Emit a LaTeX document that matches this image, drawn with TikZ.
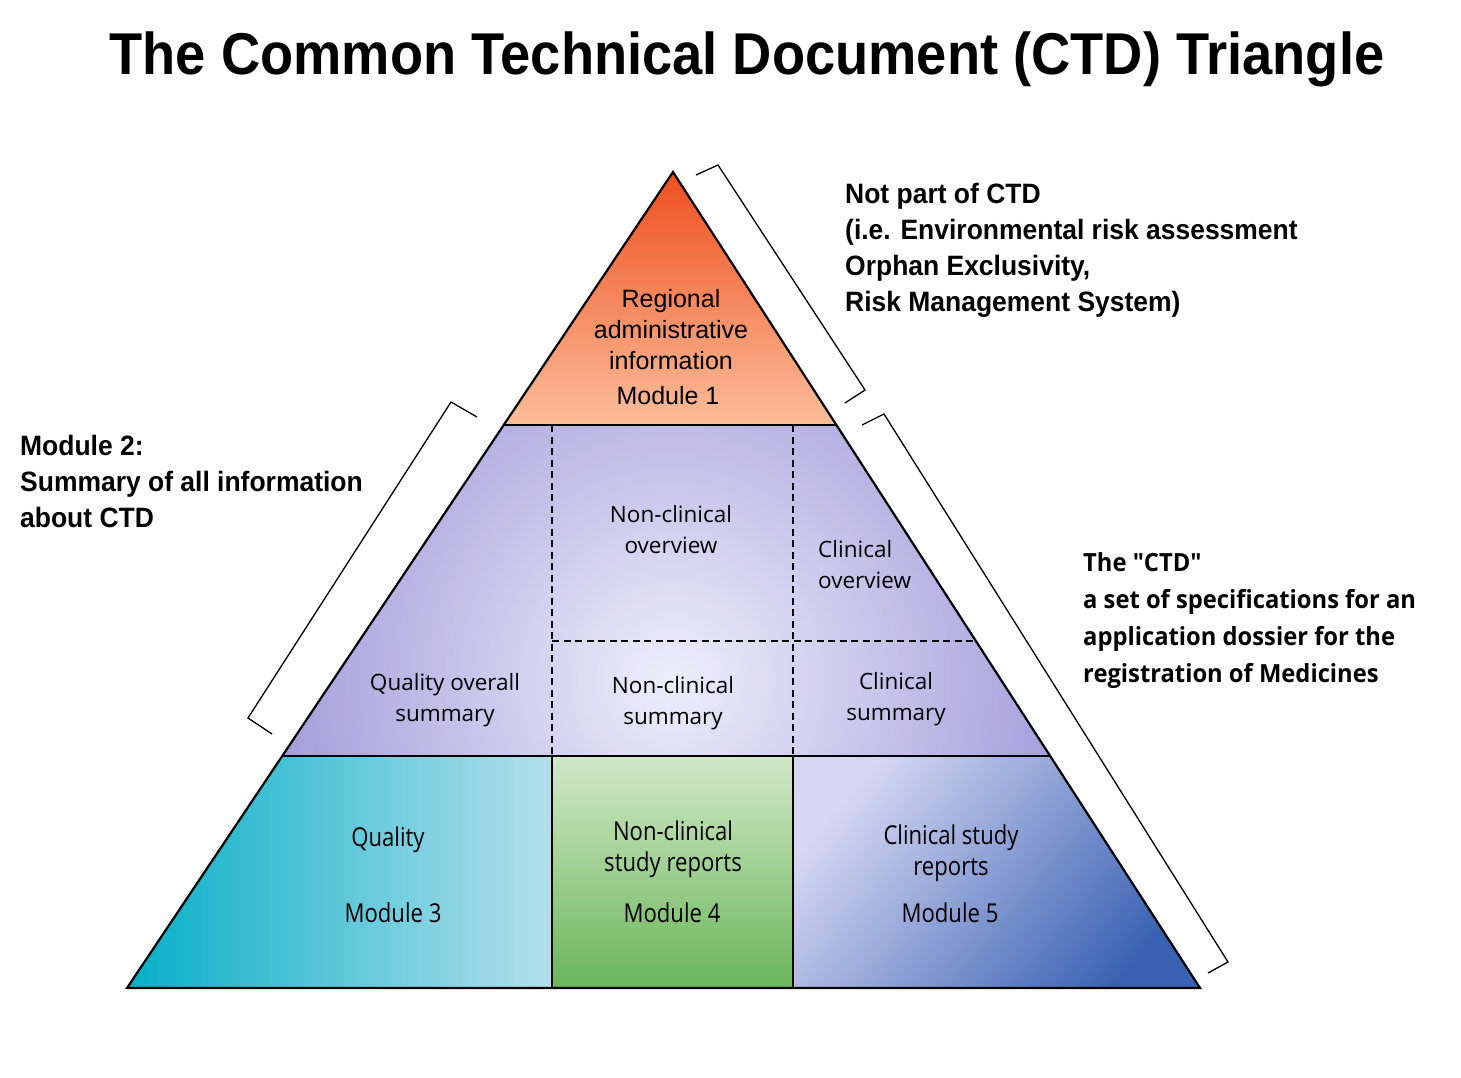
\documentclass[tikz,border=0pt]{standalone}
\usepackage{fontspec}
\setmainfont{Liberation Sans}
\newfontfamily\titlef[FakeStretch=0.92]{Liberation Sans}
\newfontfamily\notef[FakeStretch=0.945]{Liberation Sans}
\newfontfamily\innerf{Open Sans}
\newfontfamily\ctdf[FakeStretch=0.95]{Open Sans}
\newfontfamily\condf[FakeStretch=0.85]{Open Sans}
\definecolor{mOneTop}{HTML}{EE4F1F}
\definecolor{mOneMid}{HTML}{F5895A}
\definecolor{mOneBot}{HTML}{FBBE9A}
\definecolor{mTwoEdge}{HTML}{968BD5}
\definecolor{mTwoCtr}{HTML}{EFEEFA}
\definecolor{mThreeDark}{HTML}{06AFC7}
\definecolor{mThreeLight}{HTML}{B4E0EC}
\definecolor{mFourTop}{HTML}{D2E8C9}
\definecolor{mFourBot}{HTML}{69B658}
\definecolor{mFiveLight}{HTML}{D6D7F3}
\definecolor{mFiveMid}{HTML}{A7B0E2}
\definecolor{mFiveDark}{HTML}{3A62B2}
\begin{document}
\begin{tikzpicture}[x=1pt,y=-1pt,
  outline/.style={line width=2.2pt, line join=miter},
  sep/.style={line width=1.6pt},
  dsh/.style={line width=1.3pt, dash pattern=on 7pt off 4.5pt},
  brk/.style={line width=1.3pt, line join=miter},
  lbl/.style={anchor=base, inner sep=0pt, align=center},
  lbll/.style={anchor=base west, inner sep=0pt, align=left},
  arialtxt/.style={font=\fontsize{25}{31}\selectfont},
  innertxt/.style={font=\innerf\fontsize{22.5}{31}\selectfont},
  condtxt/.style={font=\condf\fontsize{26}{31}\selectfont},
  notetxt/.style={font=\notef\bfseries\fontsize{28}{36}\selectfont},
  ctdtxt/.style={font=\ctdf\bfseries\fontsize{25}{37}\selectfont}
]
\useasboundingbox (0,0) rectangle (1461,1077);
\fill[white] (0,0) rectangle (1461,1077);

% key points
\coordinate (A)  at (673,172);
\coordinate (BL) at (127,988);
\coordinate (BR) at (1200,988);
\coordinate (L1) at (503.7,425);
\coordinate (R1) at (836.4,425);
\coordinate (L2) at (282.2,756);
\coordinate (R2) at (1050.2,756);
\coordinate (RD) at (975.9,641);
\coordinate (C1t) at (552,425);
\coordinate (C2t) at (793,425);
\coordinate (C1m) at (552,756);
\coordinate (C2m) at (793,756);
\coordinate (C1b) at (552,988);
\coordinate (C2b) at (793,988);
\coordinate (D1) at (552,641);

% Module 1
\shade[top color=mOneTop, middle color=mOneMid, bottom color=mOneBot] (A) -- (L1) -- (R1) -- cycle;

% Module 2
\begin{scope}
  \clip (L1) -- (R1) -- (R2) -- (L2) -- cycle;
  \fill[mTwoEdge] (250,420) rectangle (1060,760);
  \shade[inner color=mTwoCtr, outer color=mTwoEdge] (672,680) circle (480);
\end{scope}

% Module 3
\shade[left color=mThreeDark, right color=mThreeLight] (L2) -- (C1m) -- (C1b) -- (BL) -- cycle;
% Module 4
\shade[top color=mFourTop, bottom color=mFourBot] (C1m) rectangle (C2b);
% Module 5
\shade[top color=mFiveLight, middle color=mFiveMid, bottom color=mFiveDark, shading angle=50] (C2m) -- (R2) -- (BR) -- (C2b) -- cycle;

% dashed separators
\draw[dsh] (C1t) -- (C1m);
\draw[dsh] (C2t) -- (C2m);
\draw[dsh] (D1) -- (RD);

% solid separators
\draw[sep] (C1m) -- (C1b);
\draw[sep] (C2m) -- (C2b);
\draw[outline] (L1) -- (R1);
\draw[outline] (L2) -- (R2);
\draw[outline] (A) -- (BL) -- (BR) -- cycle;

% brackets
\draw[brk] (696,175) -- (718,165) -- (865,390) -- (845,403);
\draw[brk] (862,425) -- (884,414) -- (1228,962) -- (1208,973);
\draw[brk] (477,417) -- (451,402) -- (248,718) -- (272,734);

% title
\node[lbl, font=\titlef\bfseries\fontsize{59}{70}\selectfont] (title) at (747,74) {The Common Technical Document (CTD) Triangle};

% module 1 (base anchor = last line baseline)
\node[lbl, arialtxt] (m1a) at (671,369) {Regional\\administrative\\information};
\node[lbl, arialtxt] (m1b) at (668,404) {Module 1};

% module 2 region
\node[lbl, innertxt] (qos) at (445,721) {Quality overall\\summary};
\node[lbl, innertxt] (nco) at (671,553) {Non-clinical\\overview};
\node[lbll, innertxt] (cov) at (818,588) {Clinical\\overview};
\node[lbl, innertxt] (ncs) at (673,724) {Non-clinical\\summary};
\node[lbl, innertxt] (csu) at (896,720) {Clinical\\summary};

% bottom modules
\node[lbl, condtxt] (q3) at (388,846) {Quality};
\node[lbl, condtxt] (m3) at (393,922) {Module 3};
\node[lbl, condtxt] (nc4) at (673,871) {Non-clinical\\study reports};
\node[lbl, condtxt] (m4) at (672,922) {Module 4};
\node[lbl, condtxt] (cs5) at (951,875) {Clinical study\\reports};
\node[lbl, condtxt] (m5) at (950,922) {Module 5};

% notes
\node[lbll, notetxt] (notctd) at (845,311) {Not part of CTD\\(i.e. Environmental risk assessment\\Orphan Exclusivity,\\Risk Management System)};
\node[lbll, notetxt] (mod2) at (20,527) {Module 2:\\Summary of all information\\about CTD};
\node[lbll, ctdtxt] (ctd) at (1083,682) {The "CTD"\\a set of specifications for an\\application dossier for the\\registration of Medicines};
\end{tikzpicture}
\end{document}
